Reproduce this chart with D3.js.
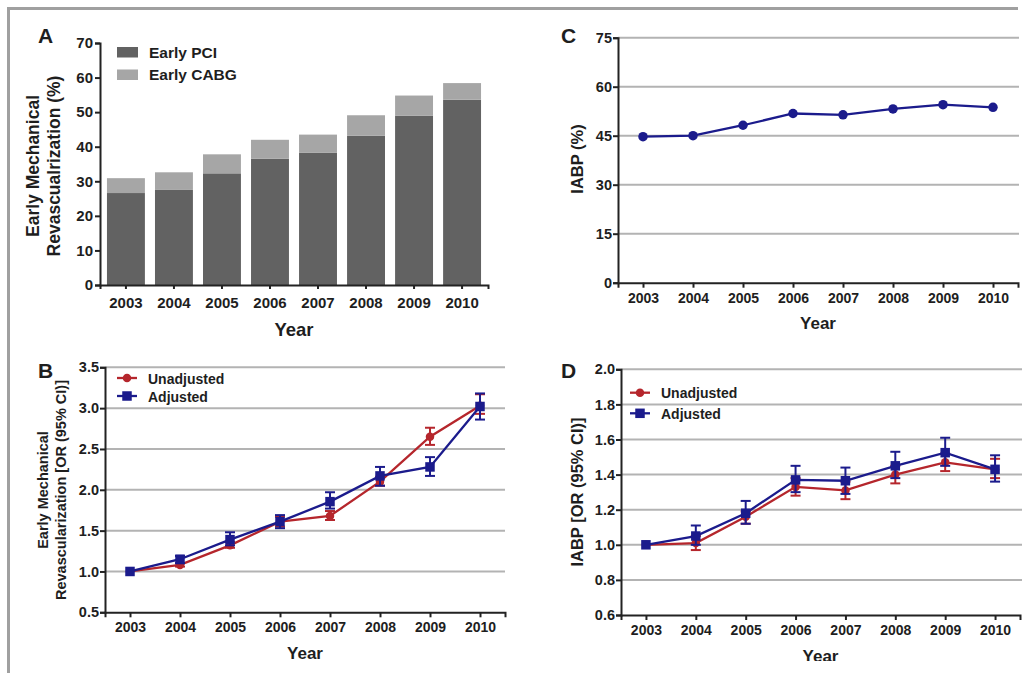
<!DOCTYPE html>
<html>
<head>
<meta charset="utf-8">
<script src="https://cdn.jsdelivr.net/npm/d3@7"></script>
<style>
body { margin: 0; background: #fff; }
svg text { font-family: "Liberation Sans", Arial, sans-serif; font-weight: bold; fill: #1e1e1e; }
</style>
</head>
<body>
<div id="chart"></div>
<script>
var years = [2003, 2004, 2005, 2006, 2007, 2008, 2009, 2010];

// panel A, % of patients
var pciPct  = [26.6, 27.5, 32.3, 36.5, 38.3, 43.2, 49.0, 53.6];
var cabgPct = [4.3, 5.1, 5.5, 5.5, 5.2, 5.9, 5.8, 4.8];

// panel B, odds ratios
var revUnadj   = [1.00, 1.08, 1.32, 1.61, 1.68, 2.10, 2.65, 3.03];
var revUnadjLo = [1.00, 1.06, 1.29, 1.55, 1.63, 2.05, 2.55, 2.93];
var revUnadjHi = [1.00, 1.10, 1.36, 1.67, 1.74, 2.16, 2.76, 3.17];
var revAdj     = [1.00, 1.15, 1.39, 1.61, 1.855, 2.17, 2.28, 3.02];
var revAdjLo   = [1.00, 1.10, 1.32, 1.53, 1.77, 2.05, 2.17, 2.86];
var revAdjHi   = [1.00, 1.19, 1.48, 1.69, 1.97, 2.28, 2.40, 3.18];

// panel C, IABP use %
var iabpPct = [44.7, 45.0, 48.2, 51.8, 51.4, 53.2, 54.5, 53.7];

// panel D, odds ratios
var iabpUnadj   = [1.00, 1.01, 1.16, 1.33, 1.31, 1.40, 1.47, 1.43];
var iabpUnadjLo = [1.00, 0.97, 1.12, 1.28, 1.26, 1.35, 1.42, 1.38];
var iabpUnadjHi = [1.00, 1.05, 1.19, 1.38, 1.36, 1.45, 1.52, 1.49];
var iabpAdj     = [1.00, 1.05, 1.18, 1.37, 1.365, 1.45, 1.525, 1.43];
var iabpAdjLo   = [1.00, 1.00, 1.12, 1.30, 1.29, 1.38, 1.45, 1.36];
var iabpAdjHi   = [1.00, 1.11, 1.25, 1.45, 1.44, 1.53, 1.61, 1.51];

var revTicks  = [0.5, 1.0, 1.5, 2.0, 2.5, 3.0, 3.5];
var iabpTicks = [0, 15, 30, 45, 60, 75];
var orTicks   = [0.6, 0.8, 1.0, 1.2, 1.4, 1.6, 1.8, 2.0];

var width = 1024,
    height = 673,
    red = "#b5262c",
    blue = "#1b1b8c",
    ink = "#222",
    gridColor = "#b3b3b3";

var svg = d3.select("#chart").append("svg")
    .attr("width", width)
    .attr("height", height);

// frame
svg.append("line").attr("x1", 7).attr("x2", 1018).attr("y1", 8.5).attr("y2", 8.5)
    .attr("stroke", "#a0a0a0").attr("stroke-width", 3);
svg.append("line").attr("x1", 8.5).attr("x2", 8.5).attr("y1", 7).attr("y2", height)
    .attr("stroke", "#a0a0a0").attr("stroke-width", 3);

function styleAxis(g, fs) {
    g.attr("font-size", fs).attr("font-family", null);
    g.select(".domain").attr("stroke", ink).attr("stroke-width", 2);
    g.selectAll(".tick line").attr("stroke", ink).attr("stroke-width", 2);
    g.selectAll(".tick text").attr("fill", "#1e1e1e");
}

function letter(txt, x, y) {
    svg.append("text").attr("x", x).attr("y", y).attr("font-size", 21).text(txt);
}

function yTitle(lines, x, y, fs, gap) {
    var t = svg.append("text")
        .attr("transform", "translate(" + x + "," + y + ") rotate(-90)")
        .attr("text-anchor", "middle")
        .attr("font-size", fs);
    lines.forEach(function (l, i) {
        t.append("tspan").attr("x", 0).attr("y", (i - lines.length + 1) * gap).text(l);
    });
}

// ---------- panel A: stacked bars ----------
(function () {
    var x = d3.scaleBand().domain(years).range([100, 488])
        .paddingInner(0.21).paddingOuter(0.145);
    var y = d3.scaleLinear().domain([0, 70]).range([285, 43]);

    var stack = years.map(function (yr, i) {
        return { year: yr, pci: pciPct[i], cabg: cabgPct[i] };
    });

    var g = svg.append("g");
    g.selectAll(".pci").data(stack).enter().append("rect")
        .attr("x", function (d) { return x(d.year); })
        .attr("width", x.bandwidth())
        .attr("y", function (d) { return y(d.pci); })
        .attr("height", function (d) { return y(0) - y(d.pci); })
        .attr("fill", "#626262");
    g.selectAll(".cabg").data(stack).enter().append("rect")
        .attr("x", function (d) { return x(d.year); })
        .attr("width", x.bandwidth())
        .attr("y", function (d) { return y(d.pci + d.cabg); })
        .attr("height", function (d) { return y(d.pci) - y(d.pci + d.cabg); })
        .attr("fill", "#a6a6a6");

    var ax = svg.append("g").attr("transform", "translate(0," + y(0) + ")")
        .call(d3.axisBottom(x).tickSizeOuter(0).tickSize(4).tickPadding(8));
    styleAxis(ax, 15);
    var ay = svg.append("g").attr("transform", "translate(100,0)")
        .call(d3.axisLeft(y).ticks(7).tickSizeOuter(0).tickSize(5).tickPadding(2));
    styleAxis(ay, 15);

    // legend
    var leg = [{ name: "Early PCI", c: "#626262" }, { name: "Early CABG", c: "#a6a6a6" }];
    leg.forEach(function (d, i) {
        svg.append("rect").attr("x", 117).attr("y", 47 + i * 22.5)
            .attr("width", 21).attr("height", 10.5).attr("fill", d.c);
        svg.append("text").attr("x", 149).attr("y", 57.5 + i * 22.5)
            .attr("font-size", 15.5).text(d.name);
    });

    letter("A", 38, 43);
    yTitle(["Early Mechanical", "Revascualrization (%)"], 60, 166, 17.5, 21);
    svg.append("text").attr("x", 294).attr("y", 336).attr("text-anchor", "middle")
        .attr("font-size", 18.5).text("Year");
})();

// ---------- generic line panel ----------
function linePanel(cfg) {
    var root = svg.append("g");
    if (cfg.clip) {
        svg.append("clipPath").attr("id", cfg.clip.id).append("rect")
            .attr("x", cfg.clip.x).attr("y", cfg.clip.y)
            .attr("width", cfg.clip.w).attr("height", cfg.clip.h);
        root.attr("clip-path", "url(#" + cfg.clip.id + ")");
    }
    var x = d3.scaleLinear().domain([2002.5, 2010.5]).range(cfg.xr);
    var y = d3.scaleLinear().domain(cfg.yd).range(cfg.yr);

    root.append("g").selectAll("line")
        .data(cfg.yticks.filter(function (t) { return t !== cfg.yd[0]; }))
        .enter().append("line")
        .attr("x1", cfg.xr[0]).attr("x2", cfg.gridEnd)
        .attr("y1", function (d) { return y(d); })
        .attr("y2", function (d) { return y(d); })
        .attr("stroke", gridColor).attr("stroke-width", 2);

    var ax = root.append("g").attr("transform", "translate(0," + cfg.yr[0] + ")")
        .call(d3.axisBottom(x).tickValues(years).tickFormat(d3.format("d"))
            .tickSizeOuter(0).tickSize(5).tickPadding(5));
    styleAxis(ax, 14);
    var ay = root.append("g").attr("transform", "translate(" + cfg.xr[0] + ",0)")
        .call(d3.axisLeft(y).tickValues(cfg.yticks).tickFormat(d3.format(cfg.fmt))
            .tickSizeOuter(0).tickSize(5).tickPadding(1));
    styleAxis(ay, 14.5);

    cfg.series.forEach(function (s) {
        var pts = years.map(function (yr, i) {
            return { x: x(yr), v: s.values[i], lo: s.lo ? s.lo[i] : null, hi: s.hi ? s.hi[i] : null };
        });
        var sg = root.append("g");
        if (s.lo) {
            var eb = sg.selectAll(".err").data(pts.filter(function (p) { return p.hi > p.lo; }))
                .enter().append("g").attr("stroke", s.color).attr("stroke-width", 2);
            eb.append("line").attr("x1", function (p) { return p.x; }).attr("x2", function (p) { return p.x; })
                .attr("y1", function (p) { return y(p.lo); }).attr("y2", function (p) { return y(p.hi); });
            eb.append("line").attr("x1", function (p) { return p.x - 5; }).attr("x2", function (p) { return p.x + 5; })
                .attr("y1", function (p) { return y(p.lo); }).attr("y2", function (p) { return y(p.lo); });
            eb.append("line").attr("x1", function (p) { return p.x - 5; }).attr("x2", function (p) { return p.x + 5; })
                .attr("y1", function (p) { return y(p.hi); }).attr("y2", function (p) { return y(p.hi); });
        }
        sg.append("path").datum(pts)
            .attr("d", d3.line().x(function (p) { return p.x; }).y(function (p) { return y(p.v); }))
            .attr("fill", "none").attr("stroke", s.color).attr("stroke-width", 2.3);
        drawMarkers(sg, pts.map(function (p) { return [p.x, y(p.v)]; }), s);
    });

    if (cfg.legend) {
        cfg.series.forEach(function (s, i) {
            var ly = cfg.legend.y + i * cfg.legend.gap;
            root.append("line").attr("x1", cfg.legend.x).attr("x2", cfg.legend.x + 20)
                .attr("y1", ly).attr("y2", ly).attr("stroke", s.color).attr("stroke-width", 2.3);
            drawMarkers(root, [[cfg.legend.x + 10, ly]], s);
            root.append("text").attr("x", cfg.legend.x + 31).attr("y", ly + 5.5)
                .attr("font-size", 14).text(s.name);
        });
    }

    root.append("text").attr("x", (cfg.xr[0] + cfg.xr[1]) / 2).attr("y", cfg.yearY)
        .attr("text-anchor", "middle").attr("font-size", 17).text("Year");
}

function drawMarkers(g, xy, s) {
    if (s.marker === "square") {
        g.selectAll(null).data(xy).enter().append("rect")
            .attr("x", function (d) { return d[0] - s.size / 2; })
            .attr("y", function (d) { return d[1] - s.size / 2; })
            .attr("width", s.size).attr("height", s.size)
            .attr("fill", s.color);
    } else {
        g.selectAll(null).data(xy).enter().append("circle")
            .attr("cx", function (d) { return d[0]; })
            .attr("cy", function (d) { return d[1]; })
            .attr("r", s.size / 2)
            .attr("fill", s.color);
    }
}

// ---------- panel B ----------
linePanel({
    xr: [105, 505], gridEnd: 505,
    yd: [0.5, 3.5], yr: [612.3, 367.3], yticks: revTicks, fmt: ".1f",
    yearY: 659,
    legend: { x: 117, y: 378, gap: 18 },
    series: [
        { name: "Unadjusted", values: revUnadj, lo: revUnadjLo, hi: revUnadjHi, color: red, marker: "circle", size: 8.5 },
        { name: "Adjusted", values: revAdj, lo: revAdjLo, hi: revAdjHi, color: blue, marker: "square", size: 9.5 }
    ]
});
letter("B", 38, 378);
yTitle(["Early Mechanical", "Revascularization [OR (95% CI)]"], 66, 490, 14.5, 18.5);

// ---------- panel C ----------
linePanel({
    xr: [618, 1018], gridEnd: 1019,
    yd: [0, 75], yr: [282.7, 37.7], yticks: iabpTicks, fmt: "d",
    yearY: 329,
    series: [
        { name: "IABP", values: iabpPct, color: blue, marker: "circle", size: 9.5 }
    ]
});
letter("C", 561, 43);
yTitle(["IABP (%)"], 583, 159, 16.5, 0);

// ---------- panel D ----------
linePanel({
    xr: [621, 1020], gridEnd: 1022,
    yd: [0.6, 2.0], yr: [615, 369.3], yticks: orTicks, fmt: ".1f",
    yearY: 662,
    clip: { id: "clipD", x: 512, y: 330, w: 512, h: 331 },
    legend: { x: 630, y: 392.7, gap: 20.6 },
    series: [
        { name: "Unadjusted", values: iabpUnadj, lo: iabpUnadjLo, hi: iabpUnadjHi, color: red, marker: "circle", size: 8.5 },
        { name: "Adjusted", values: iabpAdj, lo: iabpAdjLo, hi: iabpAdjHi, color: blue, marker: "square", size: 9.5 }
    ]
});
letter("D", 561, 378);
yTitle(["IABP [OR (95% CI)]"], 583, 492, 16.5, 0);
</script>
</body>
</html>
